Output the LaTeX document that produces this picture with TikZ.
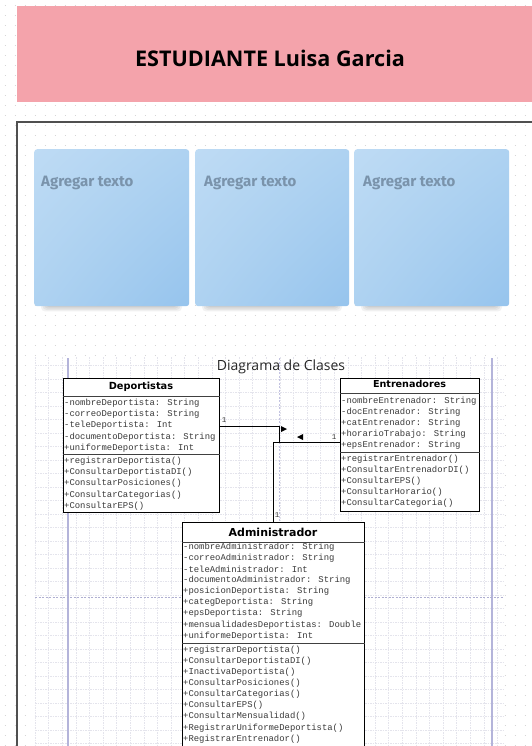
\documentclass[tikz,border=0pt]{standalone}
\usepackage{fontspec}
\setmainfont{Open Sans}
\newfontfamily\fira{Fira Sans}
\newfontfamily\dv{DejaVu Sans}
\newfontfamily\mono{Liberation Mono}
\usetikzlibrary{calc,shadings}
\definecolor{pinkbg}{HTML}{F4A3AB}
\definecolor{dotc}{HTML}{D6D6D6}
\definecolor{framec}{HTML}{505050}
\definecolor{blueA}{HTML}{BEDBF4}
\definecolor{blueB}{HTML}{AED2F1}
\definecolor{blueC}{HTML}{96C4ED}
\definecolor{agrc}{HTML}{7A93AB}
\definecolor{gridc}{HTML}{E4E4EC}
\definecolor{lavc}{HTML}{B4B4DA}
\definecolor{memc}{HTML}{3A3A3A}
\tikzset{
  dotrow/.style={draw=dotc, line width=0.9pt, dash pattern=on 0.9pt off 9.1pt},
  bluebox/.style={rounded corners=3pt, inner sep=0pt, minimum width=155pt, minimum height=157pt, anchor=north west,
    upper left=blueA, upper right=blueB, lower left=blueB, lower right=blueC},
  agr/.style={font=\fira\bfseries\fontsize{15}{17}\selectfont, text=agrc, anchor=base west, inner sep=0pt},
  classbox/.style={draw=black, line width=1pt, fill=white, inner sep=0pt, anchor=north west},
  sepline/.style={draw=black!75, line width=1pt},
  hdr/.style={text=black, inner sep=0pt},
  mem/.style={font=\mono\fontsize{8.9}{10}\selectfont, text=memc, anchor=west, inner sep=0pt},
  conn/.style={draw=black, line width=1pt},
  mult/.style={font=\mono\fontsize{7.5}{8}\selectfont, inner sep=0pt, text=memc},
  gridln/.style={draw=gridc, line width=0.5pt, dash pattern=on 1.5pt off 1pt},
}
\begin{document}
\begin{tikzpicture}[x=1pt,y=-1pt]
\useasboundingbox (0,0) rectangle (532,746);
\fill[white] (0,0) rectangle (532,746);
% dotted background
\foreach \r in {0,...,74} \draw[dotrow] (4.5,5+\r*10) -- (532,5+\r*10);
% banner
\fill[pinkbg] (17,6) rectangle (532,102);
\node[font=\bfseries\fontsize{21.6}{24}\selectfont, text=black, inner sep=0pt] (title) at (270,58) {ESTUDIANTE Luisa Garcia};
% frame
\draw[framec, line width=1.3pt] (17,760) -- (17,122) -- (545,122);
% shadows of the blue boxes
\foreach \a/\b in {34/189,195/349,354/509}{
  \foreach \k in {1,...,6}
    \fill[black, opacity=0.05, rounded corners=4pt] (\a+16-\k*1.5,296) rectangle (\b-16+\k*1.5,303+\k*1.4);
}
% blue boxes
\node[bluebox] (b1) at (34,149) {};
\node[bluebox, minimum width=154pt] (b2) at (195,149) {};
\node[bluebox] (b3) at (354,149) {};
\node[agr] (t1) at (41,186) {Agregar texto};
\node[agr] (t2) at (204,186) {Agregar texto};
\node[agr] (t3) at (363,186) {Agregar texto};
% diagram area
\fill[white] (35,357) rectangle (504,746);
\begin{scope}
\clip (35,357) rectangle (504,746);
\foreach \i in {0,...,35} \draw[gridln] (35+\i*13.6,357) -- ++(0,400);
\foreach \j in {-12,...,18} \draw[gridln] (35,514+\j*13.5) -- ++(470,0);
\end{scope}
\draw[lavc, line width=1.1pt] (68,358) -- (68,746);
\draw[lavc, line width=1.1pt] (492,358) -- (492,746);
\draw[lavc!80, line width=0.6pt, dash pattern=on 2pt off 1.5pt] (279,358) -- (279,746);
\draw[lavc!90!gray, line width=0.7pt, dash pattern=on 2pt off 1.5pt] (35,597) -- (504,597);
\node[font=\fontsize{14}{16}\selectfont, text=black!85, inner sep=0pt] (dtitle) at (281,367) {Diagrama de Clases};
% Deportistas
\node[classbox, minimum width=156pt, minimum height=134pt] (dep) at (63,378) {};
\draw[sepline] ($(dep.north west)+(0,18)$) -- ($(dep.north east)+(0,18)$);
\draw[sepline] ($(dep.north west)+(0,76)$) -- ($(dep.north east)+(0,76)$);
\node[hdr, font=\dv\bfseries\fontsize{9.8}{11}\selectfont] (depH) at (141,387) {Deportistas};
\foreach \t [count=\i from 0] in {-nombreDeportista: String,-correoDeportista: String,-teleDeportista: Int,-documentoDeportista: String,+uniformeDeportista: Int}
  \node[mem] at (64,403+\i*11.3) {\t};
\foreach \t [count=\i from 0] in {+registrarDeportista(),+ConsultarDeportistaDI(),+ConsultarPosiciones(),+ConsultarCategorias(),+ConsultarEPS()}
  \node[mem] at (64,461+\i*11.3) {\t};
% Entrenadores
\node[classbox, minimum width=139pt, minimum height=133pt] (ent) at (340,378) {};
\draw[sepline] ($(ent.north west)+(0,15)$) -- ($(ent.north east)+(0,15)$);
\draw[sepline] ($(ent.north west)+(0,74)$) -- ($(ent.north east)+(0,74)$);
\node[hdr, font=\dv\bfseries\fontsize{9.6}{11}\selectfont] (entH) at (409.5,384) {Entrenadores};
\foreach \t [count=\i from 0] in {-nombreEntrenador: String,-docEntrenador: String,+catEntrenador: String,+horarioTrabajo: String,+epsEntrenador: String}
  \node[mem] at (341,401+\i*11) {\t};
\foreach \t [count=\i from 0] in {+registrarEntrenador(),+ConsultarEntrenadorDI(),+ConsultarEPS(),+ConsultarHorario(),+ConsultarCategoria()}
  \node[mem] at (341,459+\i*11) {\t};
% Administrador
\node[classbox, minimum width=182pt, minimum height=230pt] (adm) at (182,522) {};
\draw[sepline] ($(adm.north west)+(0,20)$) -- ($(adm.north east)+(0,20)$);
\draw[sepline] ($(adm.north west)+(0,121)$) -- ($(adm.north east)+(0,121)$);
\node[hdr, font=\dv\bfseries\fontsize{11}{12}\selectfont] (admH) at (273,532) {Administrador};
\foreach \t [count=\i from 0] in {-nombreAdministrador: String,-correoAdministrador: String,-teleAdministrador: Int,-documentoAdministrador: String,+posicionDeportista: String,+categDeportista: String,+epsDeportista: String,+mensualidadesDeportistas: Double,+uniformeDeportista: Int}
  \node[mem] at (183,547+\i*11.1) {\t};
\foreach \t [count=\i from 0] in {+registrarDeportista(),+ConsultarDeportistaDI(),+InactivaDeportista(),+ConsultarPosiciones(),+ConsultarCategorias(),+ConsultarEPS(),+ConsultarMensualidad(),+RegistrarUniformeDeportista(),+RegistrarEntrenador()}
  \node[mem] at (183,650+\i*11.1) {\t};
% connectors
\coordinate (dp) at ($(dep.north east)+(0,48)$);
\coordinate (j1) at (279,442);
\draw[conn] (dp) -| (j1);
\coordinate (ep) at ($(ent.north west)+(0,64)$);
\draw[conn] (ep) -| (adm.north);
\fill[black] (281,426) -- (287,429) -- (281,432) -- cycle;
\fill[black] (303,434) -- (297,437) -- (303,440) -- cycle;
\node[mult] (m1) at (224,420) {1};
\node[mult] (m2) at (334,437) {1};
\node[mult] (m3) at (277,515) {1};
\end{tikzpicture}
\end{document}
